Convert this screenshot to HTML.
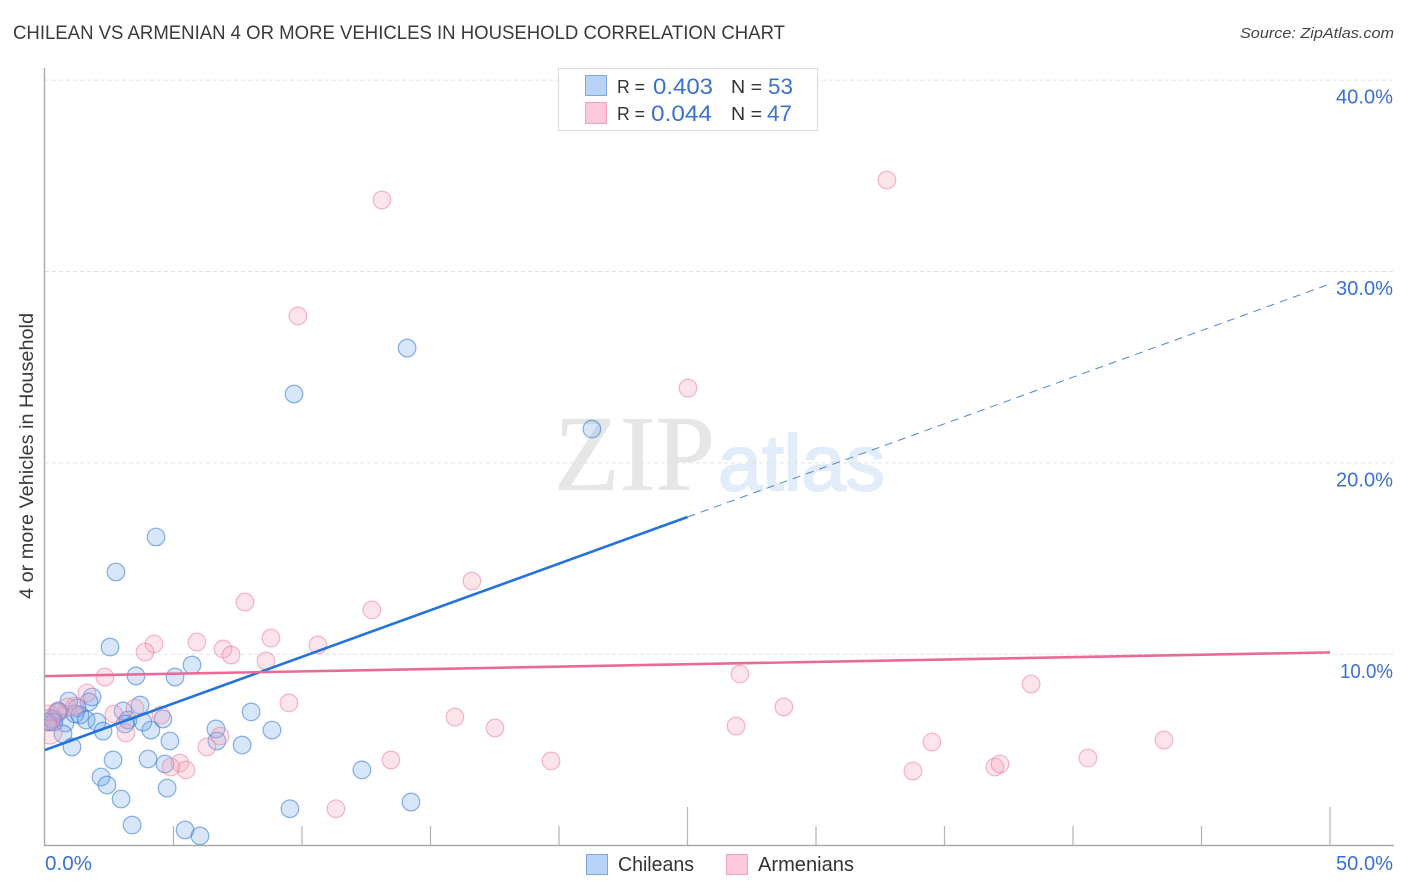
<!DOCTYPE html>
<html lang="en">
<head>
<meta charset="utf-8">
<title>Chilean vs Armenian 4 or More Vehicles in Household Correlation Chart</title>
<style>
html,body{margin:0;padding:0;background:#fff;width:1406px;height:892px;overflow:hidden}
svg{display:block}
text{font-family:"Liberation Sans",sans-serif}
</style>
</head>
<body>
<svg id="chart" xmlns="http://www.w3.org/2000/svg" width="1406" height="892" viewBox="0 0 1406 892">
<defs><clipPath id="plot-clip"><rect x="45" y="68" width="1349" height="777"/></clipPath></defs>
<text x="13" y="39" font-size="19" fill="#3a3a3a" textLength="772" lengthAdjust="spacingAndGlyphs">CHILEAN VS ARMENIAN 4 OR MORE VEHICLES IN HOUSEHOLD CORRELATION CHART</text>
<text x="1394" y="38" font-size="15" font-style="italic" fill="#444" text-anchor="end" textLength="154" lengthAdjust="spacingAndGlyphs">Source: ZipAtlas.com</text>
<text transform="translate(33,456) rotate(-90)" font-size="19" fill="#3a3a3a" text-anchor="middle" textLength="286" lengthAdjust="spacingAndGlyphs">4 or more Vehicles in Household</text>
<text x="554" y="490" font-size="108" fill="#e6e6e6" stroke="#e6e6e6" stroke-width="0.6" style="font-family:'Liberation Serif',serif" textLength="161" lengthAdjust="spacingAndGlyphs">ZIP</text>
<text x="718" y="490" font-size="79" fill="#e3ecf9" stroke="#e3ecf9" stroke-width="2" style="font-family:'Liberation Sans',sans-serif" textLength="167" lengthAdjust="spacingAndGlyphs">atlas</text>
<g id="grid"></g>
<g id="axes"></g>
<g id="chilean-points" clip-path="url(#plot-clip)"></g>
<g id="armenian-points" clip-path="url(#plot-clip)"></g>
<g id="trends"></g>
<g>
<rect x="558.5" y="68.5" width="259" height="62" fill="#fff" stroke="#dedede" stroke-width="1.2"/>
<rect x="585.5" y="75.5" width="21" height="20" fill="#b9d3f6" stroke="#7ea7e2"/>
<rect x="585.5" y="102.5" width="21" height="21" fill="#fbc9d9" stroke="#f2a5bf"/>
<text x="617" y="93" font-size="18" fill="#333" textLength="28" lengthAdjust="spacingAndGlyphs">R =</text>
<text x="653" y="94" font-size="22" fill="#3a71d0" textLength="60" lengthAdjust="spacingAndGlyphs">0.403</text>
<text x="731" y="93" font-size="18" fill="#333" textLength="31" lengthAdjust="spacingAndGlyphs">N =</text>
<text x="768" y="94" font-size="22" fill="#3a71d0" textLength="25" lengthAdjust="spacingAndGlyphs">53</text>
<text x="617" y="120" font-size="18" fill="#333" textLength="28" lengthAdjust="spacingAndGlyphs">R =</text>
<text x="651" y="121" font-size="22" fill="#3a71d0" textLength="61" lengthAdjust="spacingAndGlyphs">0.044</text>
<text x="731" y="120" font-size="18" fill="#333" textLength="31" lengthAdjust="spacingAndGlyphs">N =</text>
<text x="767" y="121" font-size="22" fill="#3a71d0" textLength="25" lengthAdjust="spacingAndGlyphs">47</text>
</g>
<g>
<rect x="586.5" y="854.5" width="21" height="20" fill="#b9d3f6" stroke="#7ea7e2"/>
<text x="618" y="871" font-size="20" fill="#333" textLength="76" lengthAdjust="spacingAndGlyphs">Chileans</text>
<rect x="726.5" y="854.5" width="21" height="20" fill="#fbc9d9" stroke="#f2a5bf"/>
<text x="758" y="871" font-size="20" fill="#333" textLength="96" lengthAdjust="spacingAndGlyphs">Armenians</text>
</g>
</svg>
<script>
const chileanX = [2.53,3.54,5.06,5.72,0.93,1.83,1.71,1.25,0.54,0.31,0.12,0.19,0.78,0.70,1.05,1.36,1.17,0.51,1.60,2.02,2.26,3.04,3.70,3.23,3.11,3.81,4.12,4.59,4.86,6.65,6.69,7.67,8.02,8.83,2.65,4.01,4.67,4.75,2.18,2.41,2.96,3.39,5.45,6.03,9.53,12.33,14.24,14.09,9.69,21.28,4.32,2.76,0.35];
const chileanY = [10.38,8.87,8.81,9.44,7.56,7.77,7.51,7.20,6.99,6.62,6.46,6.57,6.41,5.84,5.16,6.83,6.88,7.04,6.57,6.46,5.99,7.04,7.35,6.57,6.36,6.46,6.04,6.62,5.47,6.10,5.47,5.26,6.99,6.04,4.48,4.53,4.27,3.01,3.59,3.17,2.44,1.08,0.82,0.51,1.93,3.96,2.28,26.00,23.60,21.77,16.13,14.30,6.46];
const armenianX = [4.24,3.89,5.91,6.93,7.24,8.79,10.62,8.60,2.33,9.49,1.63,0.89,0.47,0.12,0.19,1.17,2.68,3.50,3.15,4.51,6.81,6.30,5.25,4.90,5.49,11.32,32.76,13.11,9.84,25.02,16.61,12.72,7.78,27.04,38.37,28.75,26.89,15.95,17.51,19.69,13.46,34.51,33.77,36.96,37.16,40.58,43.54];
const armenianY = [10.54,10.12,10.64,10.28,9.96,10.85,10.49,9.65,8.81,7.46,7.98,7.25,6.99,6.72,5.94,7.30,6.88,7.19,5.89,6.83,5.73,5.16,4.32,4.11,3.96,1.93,34.78,33.74,27.68,23.91,13.83,12.32,12.73,8.97,8.45,7.25,6.25,6.72,6.15,4.43,4.48,5.42,3.90,4.11,4.27,4.58,5.52];
const largeChileanPoints = [11];
const largeArmenianPoints = [13,14];
const chileanTrend = [5.0,29.35];
const armenianTrend = [8.86,10.1];
const yTicks = [10,20,30,40];
const yTickLabels = ["10.0%","20.0%","30.0%","40.0%"];
const xTicks = [5,10,15,20,25,30,35,40,45,50];
const xTallTicks = [25,50];
const xEndLabels = ["0.0%","50.0%"];

const NS = 'http://www.w3.org/2000/svg';
const xScale = v => 45 + v * 25.7;
const yScale = v => 845.7 - v * 19.14;

function make(parent, tag, attrs) {
  const el = document.createElementNS(NS, tag);
  for (const k in attrs) el.setAttribute(k, attrs[k]);
  parent.appendChild(el);
  return el;
}

const grid = document.getElementById('grid');
yTicks.forEach(v => {
  const l = make(grid, 'line', {x1:45, x2:1394, y1:yScale(v), y2:yScale(v), stroke:'#e2e2e2', 'stroke-width':1, 'stroke-dasharray':'4 3'});
  
  
});

const axes = document.getElementById('axes');
const yAxis = make(axes, 'line', {x1:44.5, x2:44.5, y1:68, y2:846, stroke:'#aaa', 'stroke-width':1.4});


const xAxis = make(axes, 'line', {x1:44, x2:1394, y1:845.5, y2:845.5, stroke:'#aaa', 'stroke-width':1.4});


xTicks.forEach(v => {
  const top = xTallTicks.includes(v) ? 807 : 826;
  const t = make(axes, 'line', {x1:xScale(v), x2:xScale(v), y1:top, y2:845, stroke:'#b4b4b4', 'stroke-width':1.2});
  
  
});
yTicks.forEach((v, i) => {
  const w = yTickLabels[i].charAt(0) === '1' ? 53 : 57;
  const t = make(axes, 'text', {x:1393 - w, y:yScale(v) + 23.5, 'font-size':20, fill:'#3a71d0', textLength:w, lengthAdjust:'spacingAndGlyphs'});
  t.textContent = yTickLabels[i];
  
  
});
const xLabelStart = make(axes, 'text', {x:45, y:870, 'font-size':20, fill:'#3a71d0', textLength:47, lengthAdjust:'spacingAndGlyphs'});
xLabelStart.textContent = xEndLabels[0];


const xLabelEnd = make(axes, 'text', {x:1336, y:870, 'font-size':20, fill:'#3a71d0', textLength:57, lengthAdjust:'spacingAndGlyphs'});
xLabelEnd.textContent = xEndLabels[1];



const chileanGroup = document.getElementById('chilean-points');
chileanX.forEach((v, i) => {
  const c = make(chileanGroup, 'circle', {cx:xScale(v), cy:yScale(chileanY[i]), r:largeChileanPoints.includes(i) ? 10.5 : 8.8, fill:'rgba(110,165,232,0.28)', stroke:'rgba(50,120,215,0.58)', 'stroke-width':1.2});
  
  
});
const armenianGroup = document.getElementById('armenian-points');
armenianX.forEach((v, i) => {
  const c = make(armenianGroup, 'circle', {cx:xScale(v), cy:yScale(armenianY[i]), r:largeArmenianPoints.includes(i) ? 12 : 8.8, fill:'rgba(246,165,188,0.3)', stroke:'rgba(236,125,160,0.55)', 'stroke-width':1.2});
  
  
});

const trends = document.getElementById('trends');
const trendAt = (t, x) => t[0] + (t[1] - t[0]) * x / 50;
const blueSolid = make(trends, 'line', {x1:xScale(0), y1:yScale(trendAt(chileanTrend,0)), x2:xScale(25), y2:yScale(trendAt(chileanTrend,25)), stroke:'#2472dc', 'stroke-width':2.6});


const blueDash = make(trends, 'line', {x1:xScale(25), y1:yScale(trendAt(chileanTrend,25)), x2:xScale(50), y2:yScale(trendAt(chileanTrend,50)), stroke:'#4f86d8', 'stroke-width':1, 'stroke-dasharray':'8 6'});


const pinkSolid = make(trends, 'line', {x1:xScale(0), y1:yScale(trendAt(armenianTrend,0)), x2:xScale(50), y2:yScale(trendAt(armenianTrend,50)), stroke:'#ea6a97', 'stroke-width':2.6});


</script>
</body>
</html>
